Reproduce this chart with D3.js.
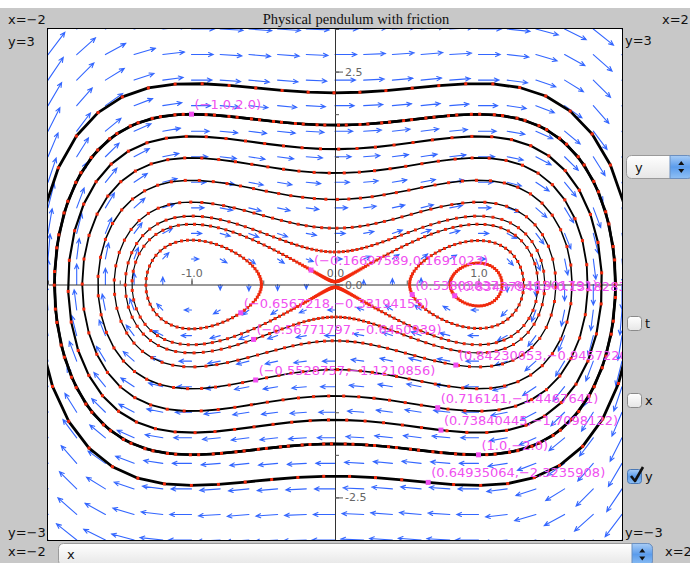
<!DOCTYPE html>
<html>
<head>
<meta charset="utf-8">
<script src="https://cdn.jsdelivr.net/npm/d3@7"></script>
<style>
  html, body { margin: 0; padding: 0; background: #c8c8c8; }
  svg { display: block; }
</style>
</head>
<body>
<svg id="chart" width="690" height="563"></svg>
<script>
// Phase plane of x' = y, y' = x - x^3, drawn on the window x in [-2,2], y in [-3,3]

const titleText = "Physical pendulum with friction";
const xDomain = [-2, 2];
const yDomain = [-3, 3];

// Initial conditions of the plotted solution curves, exactly as they are labelled
const startX = ["-1.0", "-0.16697589", "-0.6567218", "-0.56771797", "-0.5528757",
                "0.53803837", "0.83437945", "0.84230053", "0.716141", "0.73840445",
                "1.0", "0.64935064"];
const startY = ["2.0", "0.1691023", "-0.33194155", "-0.6450939", "-1.1210856",
                "-0.11801791", "-0.13182838", "-0.9457220", "-1.4467641", "-1.7098122",
                "-2.0", "-2.3235908"];

// Sample grid of the direction field
const fieldX = [-2, -1.8, -1.6, -1.4, -1.2, -1, -0.8, -0.6, -0.4, -0.2, 0,
                0.2, 0.4, 0.6, 0.8, 1, 1.2, 1.4, 1.6, 1.8, 2];
const fieldY = [-3, -2.7, -2.4, -2.1, -1.8, -1.5, -1.2, -0.9, -0.6, -0.3, 0,
                0.3, 0.6, 0.9, 1.2, 1.5, 1.8, 2.1, 2.4, 2.7, 3];

// Axis ticks
const xMajorTicks = [-1, 0, 1];
const yMajorTicks = [-2.5, 0, 2.5];
const xMinorTicks = [-2, -1.5, -1, -0.5, 0, 0.5, 1, 1.5, 2];
const yMinorTicks = [-3, -2.5, -2, -1.5, -1, -0.5, 0, 0.5, 1, 1.5, 2, 2.5, 3];

// Window bound captions
const boundXLow = "x=\u22122", boundXHigh = "x=2";
const boundYHigh = "y=3", boundYLow = "y=\u22123";

// Controls
const horizontalVar = "x";
const verticalVar = "y";
const plotToggles = ["t", "x", "y"];
const plotToggleOn = [false, false, true];

// The system
function field(x, y) { return [y, x - x * x * x]; }

function rk4(x, y, h) {
  const [a1, b1] = field(x, y);
  const [a2, b2] = field(x + h / 2 * a1, y + h / 2 * b1);
  const [a3, b3] = field(x + h / 2 * a2, y + h / 2 * b2);
  const [a4, b4] = field(x + h * a3, y + h * b3);
  return [x + h / 6 * (a1 + 2 * a2 + 2 * a3 + a4), y + h / 6 * (b1 + 2 * b2 + 2 * b3 + b4)];
}

function segDist(px, py, ax, ay, bx, by) {
  const dx = bx - ax, dy = by - ay;
  const l2 = dx * dx + dy * dy;
  let t = l2 > 0 ? ((px - ax) * dx + (py - ay) * dy) / l2 : 0;
  t = Math.max(0, Math.min(1, t));
  return Math.hypot(px - (ax + t * dx), py - (ay + t * dy));
}

// Integrate one full revolution of the closed orbit through (x0, y0);
// every kept sample becomes a dot on the curve
function solveOrbit(x0, y0) {
  const h = 0.01, keepEvery = 8, maxSteps = 60000;
  const pts = [[x0, y0]];
  let x = x0, y = y0;
  for (let i = 1; i <= maxSteps; i++) {
    const [nx, ny] = rk4(x, y, h);
    if (i * h > 0.5 && segDist(x0, y0, x, y, nx, ny) < 1e-3) { pts.push([x0, y0]); break; }
    x = nx; y = ny;
    if (i % keepEvery === 0) pts.push([x, y]);
  }
  return pts;
}

const svg = d3.select("#chart");
const W = 690, H = 563;
const plot = { left: 48, top: 29, right: 622, bottom: 540 };

const xScale = d3.scaleLinear().domain(xDomain).range([plot.left, plot.right]);
const yScale = d3.scaleLinear().domain(yDomain).range([plot.bottom, plot.top]);

const defs = svg.append("defs");
defs.append("clipPath").attr("id", "plotClip")
  .append("rect").attr("x", plot.left).attr("y", plot.top)
  .attr("width", plot.right - plot.left).attr("height", plot.bottom - plot.top);

const gradWhite = defs.append("linearGradient").attr("id", "gWhite").attr("x1", 0).attr("y1", 0).attr("x2", 0).attr("y2", 1);
gradWhite.append("stop").attr("offset", "0%").attr("stop-color", "#ffffff");
gradWhite.append("stop").attr("offset", "100%").attr("stop-color", "#e6e6e6");
const gradBlue = defs.append("linearGradient").attr("id", "gBlue").attr("x1", 0).attr("y1", 0).attr("x2", 0).attr("y2", 1);
gradBlue.append("stop").attr("offset", "0%").attr("stop-color", "#a9cdf6");
gradBlue.append("stop").attr("offset", "50%").attr("stop-color", "#5b9cec");
gradBlue.append("stop").attr("offset", "100%").attr("stop-color", "#8fc0f4");

// Window background
svg.append("rect").attr("width", W).attr("height", H).attr("fill", "#c8c8c8");
svg.append("rect").attr("width", W).attr("height", 8).attr("fill", "#ffffff");
svg.append("rect").attr("x", plot.left).attr("y", plot.top)
  .attr("width", plot.right - plot.left).attr("height", plot.bottom - plot.top)
  .attr("fill", "#ffffff");

const inner = svg.append("g").attr("clip-path", "url(#plotClip)");

// Direction field: arrow length grows with the square root of the speed
const kx = xScale(1) - xScale(0);
const ky = yScale(1) - yScale(0);
const arrows = [];
fieldX.forEach(gx => fieldY.forEach(gy => {
  const [vx, vy] = field(gx, gy);
  const sx = vx * kx, sy = vy * ky;
  const m = Math.hypot(sx, sy);
  if (m < 1e-9) return;
  arrows.push({ x: xScale(gx), y: yScale(gy), ux: sx / m, uy: sy / m, len: 1.1 * Math.sqrt(m) });
}));

function arrowPath(a) {
  const tx = a.x + a.ux * a.len, ty = a.y + a.uy * a.len;
  const head = 5, ang = 0.42;
  const bx = -a.ux, by = -a.uy;
  const c = Math.cos(ang), s = Math.sin(ang);
  const l1x = tx + head * (bx * c - by * s), l1y = ty + head * (bx * s + by * c);
  const l2x = tx + head * (bx * c + by * s), l2y = ty + head * (-bx * s + by * c);
  return `M${a.x},${a.y}L${tx},${ty}M${l1x},${l1y}L${tx},${ty}L${l2x},${l2y}`;
}

inner.append("g").selectAll("path").data(arrows).join("path")
  .attr("d", arrowPath)
  .attr("fill", "none")
  .attr("stroke", "#3366ff")
  .attr("stroke-width", 1.1)
  .attr("stroke-linecap", "round");

// Axes through the origin
const fmt = d => d.toFixed(1);
const axX = inner.append("g").attr("transform", `translate(0,${yScale(0)})`);
axX.call(d3.axisTop(xScale).tickValues(xMinorTicks).tickSize(4).tickSizeOuter(0).tickFormat(""));
axX.call(g => g.select(".domain").attr("stroke", "#333"));
const axXMajor = inner.append("g").attr("transform", `translate(0,${yScale(0)})`)
  .call(d3.axisTop(xScale).tickValues(xMajorTicks).tickSize(6).tickPadding(2).tickFormat(fmt));
axXMajor.select(".domain").remove();

const axY = inner.append("g").attr("transform", `translate(${xScale(0)},0)`);
axY.call(d3.axisRight(yScale).tickValues(yMinorTicks).tickSize(4).tickSizeOuter(0).tickFormat(""));
axY.call(g => g.select(".domain").attr("stroke", "#333"));
const axYMajor = inner.append("g").attr("transform", `translate(${xScale(0)},0)`)
  .call(d3.axisRight(yScale).tickValues(yMajorTicks).tickSize(8).tickPadding(2).tickFormat(fmt));
axYMajor.select(".domain").remove();

inner.selectAll(".tick line").attr("stroke", "#555");
inner.selectAll(".tick text")
  .attr("fill", "#666")
  .attr("font-family", "DejaVu Sans, sans-serif")
  .attr("font-size", 11);

// Solution curves
const starts = startX.map((sx, i) => ({ x: +sx, y: +startY[i], label: `(${sx.replace("-", "\u2212")},${startY[i].replace("-", "\u2212")})` }));
const orbits = starts.map(s => {
  const pts = solveOrbit(s.x, s.y);
  const energy = s.y * s.y / 2 - s.x * s.x / 2 + Math.pow(s.x, 4) / 4;
  return { pts, energy };
});
const widthOf = d3.scaleLinear().domain([0, 2]).range([1.1, 2.8]).clamp(true);

const line = d3.line().x(d => xScale(d[0])).y(d => yScale(d[1]));
inner.append("g").selectAll("path").data(orbits).join("path")
  .attr("d", d => line(d.pts))
  .attr("fill", "none")
  .attr("stroke", "#000")
  .attr("stroke-width", d => widthOf(d.energy))
  .attr("stroke-linejoin", "round");

const dotLayer = inner.append("g").attr("fill", "#f22a0c");
orbits.forEach(o => {
  dotLayer.append("g").selectAll("rect").data(o.pts).join("rect")
    .attr("x", d => xScale(d[0]) - 1.5)
    .attr("y", d => yScale(d[1]) - 1.5)
    .attr("width", 3).attr("height", 3);
});

// Starting points with their coordinates
const marks = inner.append("g");
marks.selectAll("rect").data(starts).join("rect")
  .attr("x", d => xScale(d.x) - 2.5)
  .attr("y", d => yScale(d.y) - 2.5)
  .attr("width", 5).attr("height", 5)
  .attr("fill", "#f04ef0");
marks.selectAll("text").data(starts).join("text")
  .attr("x", d => xScale(d.x) + 3)
  .attr("y", d => yScale(d.y) - 5)
  .attr("fill", "#f050f0")
  .attr("font-family", "DejaVu Sans, sans-serif")
  .attr("font-size", 13)
  .text(d => d.label);

// Frame
svg.append("rect").attr("x", plot.left - 0.5).attr("y", plot.top - 0.5)
  .attr("width", plot.right - plot.left + 1).attr("height", plot.bottom - plot.top + 1)
  .attr("fill", "none").attr("stroke", "#000").attr("stroke-width", 1);

// Title and window bounds
svg.append("text").attr("x", 356).attr("y", 24).attr("text-anchor", "middle")
  .attr("font-family", "Liberation Serif, serif").attr("font-size", 14.5).attr("fill", "#111")
  .text(titleText);

const ui = svg.append("g").attr("font-family", "DejaVu Sans, sans-serif").attr("font-size", 13).attr("fill", "#111");
ui.append("text").attr("x", 8).attr("y", 24).text(boundXLow);
ui.append("text").attr("x", 662).attr("y", 24).text(boundXHigh);
ui.append("text").attr("x", 8).attr("y", 46).text(boundYHigh);
ui.append("text").attr("x", 625).attr("y", 45).text(boundYHigh);
ui.append("text").attr("x", 8).attr("y", 537).text(boundYLow);
ui.append("text").attr("x", 625).attr("y", 537).text(boundYLow);
ui.append("text").attr("x", 8).attr("y", 556).text(boundXLow);
ui.append("text").attr("x", 665).attr("y", 556).text(boundXHigh);

// Popup menus
function popup(x, y, w, h, label, stepX) {
  const g = svg.append("g");
  g.append("rect").attr("x", x + 0.5).attr("y", y + 0.5).attr("width", w).attr("height", h)
    .attr("rx", 5).attr("fill", "url(#gWhite)").attr("stroke", "#9a9a9a");
  g.append("path")
    .attr("d", `M${stepX},${y + 0.5}H${x + w - 4.5}a5,5 0 0 1 5,5V${y + h - 4.5}a5,5 0 0 1 -5,5H${stepX}Z`)
    .attr("fill", "url(#gBlue)").attr("stroke", "#6b8fbf");
  const cx = stepX + (x + w + 0.5 - stepX) / 2, cy = y + h / 2 + 0.5;
  g.append("path").attr("d", `M${cx - 3},${cy - 2}L${cx + 3},${cy - 2}L${cx},${cy - 6}Z`).attr("fill", "#111");
  g.append("path").attr("d", `M${cx - 3},${cy + 2}L${cx + 3},${cy + 2}L${cx},${cy + 6}Z`).attr("fill", "#111");
  g.append("text").attr("x", x + 9).attr("y", y + h / 2 + 5)
    .attr("font-family", "DejaVu Sans, sans-serif").attr("font-size", 13).attr("fill", "#111").text(label);
}
popup(626, 155, 66, 23, verticalVar, 670);
popup(58, 543, 594, 22, horizontalVar, 632);

// Plot toggles
const toggleY = [316, 393, 469];
plotToggles.forEach((name, i) => {
  const g = svg.append("g");
  const y0 = toggleY[i];
  g.append("rect").attr("x", 627.5).attr("y", y0 + 0.5).attr("width", 14).attr("height", 14).attr("rx", 3)
    .attr("fill", plotToggleOn[i] ? "url(#gBlue)" : "url(#gWhite)")
    .attr("stroke", plotToggleOn[i] ? "#4a78b5" : "#8a8a8a");
  if (plotToggleOn[i]) {
    g.append("path").attr("d", `M631,${y0 + 7}L635,${y0 + 12}L643,${y0 - 2}`)
      .attr("fill", "none").attr("stroke", "#111").attr("stroke-width", 2.6).attr("stroke-linejoin", "round");
  }
  g.append("text").attr("x", 645).attr("y", y0 + 12)
    .attr("font-family", "DejaVu Sans, sans-serif").attr("font-size", 13).attr("fill", "#111").text(name);
});
</script>
</body>
</html>
